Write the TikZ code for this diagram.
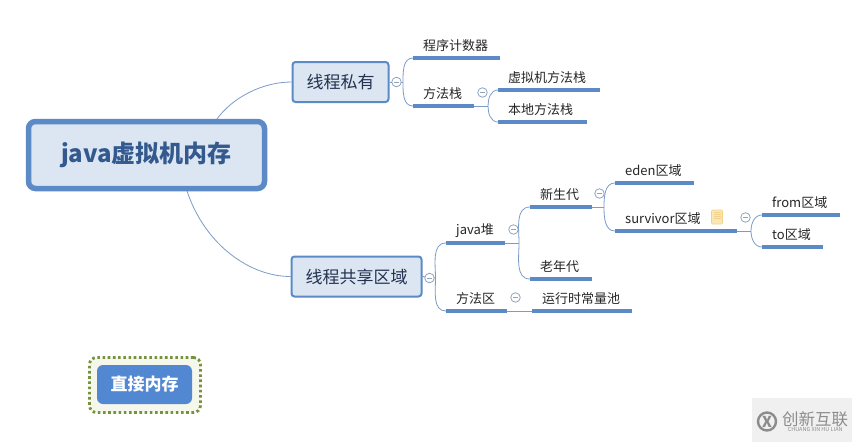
\documentclass[tikz,border=0pt]{standalone}
\usepackage{fontspec}
\setmainfont{Noto Sans CJK SC}
\usetikzlibrary{arrows.meta,positioning,calc}
\definecolor{mapblue}{HTML}{5B8AC6}
\definecolor{mapline}{HTML}{7C9CC8}
\definecolor{mappanel}{HTML}{DCE6F2}
\definecolor{mapink}{HTML}{23324F}
\definecolor{maproot}{HTML}{34598F}
\definecolor{mapfold}{HTML}{8FA3BC}
\definecolor{mapfloat}{HTML}{5288D1}
\definecolor{mapolive}{HTML}{76923C}
\definecolor{mapcream}{HTML}{F6F7EC}
\definecolor{mapnote}{HTML}{FBE7B4}
\definecolor{mapnoteink}{HTML}{F0D28C}
\definecolor{markbg}{HTML}{F0F0F0}
\definecolor{markink}{HTML}{8C8C8C}
\tikzset{
  bx/.style={rounded corners=3pt, align=center, inner sep=0pt},
  rootbx/.style={bx, rounded corners=7pt, draw=mapblue, line width=5.5pt, fill=mappanel, text=maproot, font=\fontsize{24}{26}\selectfont\bfseries, minimum width=236pt, minimum height=67pt},
  mainbx/.style={bx, draw=mapblue, line width=2pt, fill=mappanel, text=mapink, font=\fontsize{17}{20}\selectfont, minimum height=40pt},
  leaf/.style={anchor=south west, inner xsep=10pt, inner ysep=0pt, text width=#1pt-20pt, align=left, minimum height=24pt, font=\fontsize{13}{15}\selectfont, text=black!85},
  ul/.style={draw=mapblue, line width=3.2pt},
  fold/.style={circle, draw=mapfold, fill=white, line width=.8pt, minimum size=9.5pt, inner sep=0pt,
    path picture={\draw[mapfold, line width=.8pt] ($(path picture bounding box.center)+(-2.5pt,0)$) -- ($(path picture bounding box.center)+(2.5pt,0)$);}},
  arr/.style={draw=mapline, line width=.8pt},
  up/.style={arr, out=90, in=180},
  down/.style={arr, out=-90, in=180},
}
\begin{document}
\begin{tikzpicture}[x=1pt, y=-1pt]
  \useasboundingbox (0,0) rectangle (852,442);
  \fill[white] (0,0) rectangle (852,442);
  \fill[markbg] (752,398) rectangle (852,442);

  \coordinate (rootup) at (217,119);
  \coordinate (rootdn) at (187,191);
  \node[mainbx, minimum width=96pt] (priv) at (340.5,82) {线程私有};
  \node[mainbx, minimum width=130pt] (shared) at (356.5,276.5) {线程共享区域};
  \draw[arr] (rootup) .. controls (232,98) and (262,82) .. (priv.west);
  \draw[arr] (rootdn) .. controls (205,245) and (250,276.5) .. (shared.west);
  \node[rootbx] (root) at (146.5,155) {java虚拟机内存};

  \node[leaf=87] (pc) at (413,58) {程序计数器};
  \node[leaf=61] (mstack) at (413,106) {方法栈};
  \node[leaf=102] (vmstack) at (498,90) {虚拟机方法栈};
  \node[leaf=89] (nstack) at (498,122) {本地方法栈};
  \node[leaf=59] (heap) at (446,243) {java堆};
  \node[leaf=61] (marea) at (446,311) {方法区};
  \node[leaf=100] (pool) at (532,311) {运行时常量池};
  \node[leaf=62] (young) at (530,207) {新生代};
  \node[leaf=62] (old) at (530,279) {老年代};
  \node[leaf=79] (eden) at (615,183) {eden区域};
  \node[leaf=122] (surv) at (615,231) {survivor区域};
  \node[leaf=78] (from) at (762,215) {from区域};
  \node[leaf=61] (to) at (762,247) {to区域};

  \coordinate (j1) at (403,82);
  \coordinate (j2) at (435.5,278);
  \coordinate (j3) at (488,106);
  \coordinate (j4) at (519,243);
  \coordinate (j5) at (604,207);
  \coordinate (j6) at (751,231);

  \draw[arr] (priv.east) -- (j1);
  \draw[arr] (shared.east) -- (j2);
  \draw[arr] (mstack.south east) -- (j3);
  \draw[arr] (heap.south east) -- (j4);
  \draw[arr] (young.south east) -- (j5);
  \draw[arr] (surv.south east) -- (j6);
  \draw[arr] (marea.south east) -- (pool.south west);
  \foreach \a/\b in {j1/pc,j2/heap,j3/vmstack,j4/young,j5/eden,j6/from} \draw[up] (\a) to (\b.south west);
  \foreach \a/\b in {j1/mstack,j2/marea,j3/nstack,j4/old,j5/surv,j6/to} \draw[down] (\a) to (\b.south west);
  \foreach \n in {pc,mstack,vmstack,nstack,heap,marea,pool,young,old,eden,surv,from,to} \draw[ul] (\n.south west) -- (\n.south east);

  \node[fold] (f1) at (396.5,82) {};
  \node[fold] (f2) at (429.5,278) {};
  \node[fold] (f3) at (482.5,92.5) {};
  \node[fold] (f4) at (513.5,229.5) {};
  \node[fold] (f5) at (515.5,297.5) {};
  \node[fold] (f6) at (599.5,193.5) {};
  \node[fold] (f7) at (745.5,217.5) {};

  \node[draw=mapnoteink, fill=mapnote, rounded corners=1pt, line width=.6pt, minimum width=11pt, minimum height=14pt, inner sep=0pt,
    path picture={\foreach \i in {-1,1,3,5} \draw[mapnoteink, line width=.8pt] ($(path picture bounding box.center)+(-3.5pt,\i*1pt)$) -- ++(7pt,0);}] (note) at (717,217) {};

  \node[draw=mapolive, fill=mapcream, line width=2.8pt, dash pattern=on 2.6pt off 2.6pt, rounded corners=7pt, minimum width=111pt, minimum height=55pt] (floatbg) at (145,385) {};
  \node[bx, rounded corners=6pt, fill=mapfloat, text=white, font=\fontsize{17}{20}\selectfont\bfseries, minimum width=95pt, minimum height=39pt] (direct) at (144.5,384.5) {直接内存};

  \node[circle, draw=markink, line width=2.4pt, minimum size=18pt, inner sep=0pt, font=\bfseries\fontsize{15}{15}\selectfont, text=markink] (marklogo) at (767,421.5) {X};
  \node[anchor=west, inner sep=0pt, text=markink, font=\fontsize{16.5}{17}\selectfont] (marktext) at (782,419.5) {创新互联};
  \node[below=0pt of marktext, inner sep=0pt, text=markink, font=\fontsize{5.5}{5.5}\selectfont] (marksub) {CHUANG XIN HU LIAN};
\end{tikzpicture}
\end{document}
